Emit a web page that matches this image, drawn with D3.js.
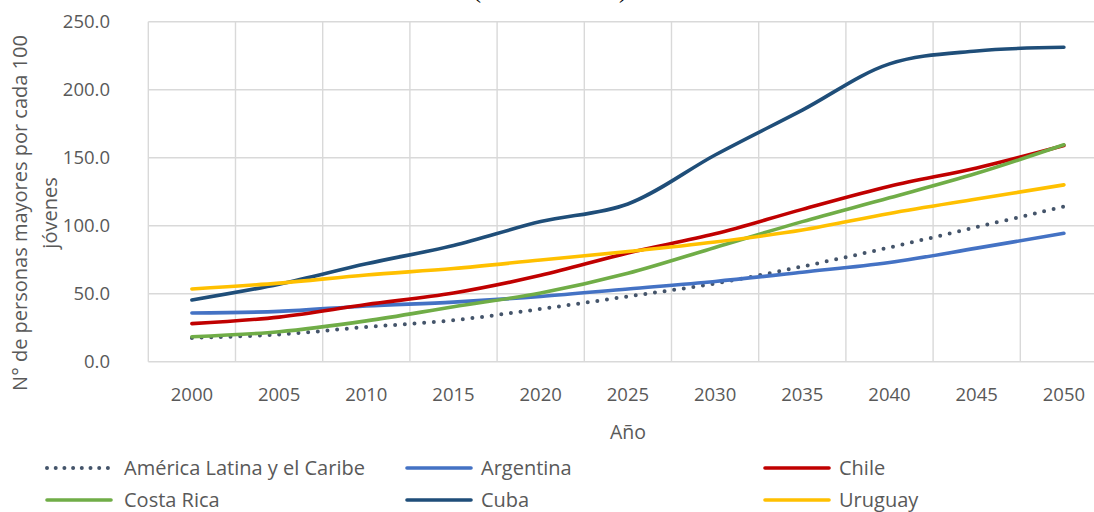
<!DOCTYPE html>
<html>
<head>
<meta charset="utf-8">
<script src="https://cdnjs.cloudflare.com/ajax/libs/d3/7.8.5/d3.min.js"></script>
<style>
  body { margin: 0; background: #fff; }
  text { font-family: "Open Sans", "Noto Sans", sans-serif; fill: #595959; }
</style>
</head>
<body>
<div id="chart"></div>
<script>
// data
var years = [2000, 2005, 2010, 2015, 2020, 2025, 2030, 2035, 2040, 2045, 2050];
var yTicks = [0, 50, 100, 150, 200, 250];

var alc       = [17.5, 20.0, 25.5, 30.5, 38.8, 48.0, 57.5, 70.0, 84.0, 99.0, 114.0];
var argentina = [35.8, 37.0, 41.0, 43.8, 48.0, 53.5, 59.0, 65.8, 73.0, 83.5, 94.4];
var chile     = [28.0, 32.8, 42.0, 50.5, 63.5, 80.0, 94.0, 112.0, 129.0, 142.5, 159.0];
var costaRica = [18.4, 22.0, 30.0, 40.4, 50.5, 65.0, 84.0, 103.0, 120.5, 138.5, 159.5];
var cuba      = [45.4, 57.0, 72.0, 85.5, 103.0, 116.0, 152.0, 185.0, 219.0, 228.5, 231.2];
var uruguay   = [53.5, 57.8, 63.8, 68.5, 74.8, 81.0, 88.0, 96.8, 109.0, 119.6, 130.0];

var seriesNames = ["América Latina y el Caribe", "Argentina", "Chile", "Costa Rica", "Cuba", "Uruguay"];
var seriesValues = [alc, argentina, chile, costaRica, cuba, uruguay];
var seriesColors = ["#44546A", "#4472C4", "#C00000", "#70AD47", "#1F4E79", "#FFC000"];

var width = 1094, height = 512;

var svg = d3.select("#chart").append("svg")
    .attr("width", width)
    .attr("height", height);

// scales (category axis, points in the middle of each band)
var x = d3.scaleBand()
    .domain(years)
    .range([148.3, 1107.5]);

var y = d3.scaleLinear()
    .domain([0, 250])
    .range([361.7, 21.7]);

// gridlines
var grid = svg.append("g").attr("stroke", "#d9d9d9").attr("stroke-width", 1.4);

grid.selectAll(".hgrid")
    .data(yTicks)
  .enter().append("line")
    .attr("x1", x.range()[0])
    .attr("x2", x.range()[1])
    .attr("y1", function(d) { return y(d); })
    .attr("y2", function(d) { return y(d); });

var bounds = years.map(function(d) { return x(d); }).concat([x.range()[1]]);
grid.selectAll(".vgrid")
    .data(bounds)
  .enter().append("line")
    .attr("x1", function(d) { return d; })
    .attr("x2", function(d) { return d; })
    .attr("y1", y(250))
    .attr("y2", y(0));

// y tick labels
svg.append("g").selectAll("text")
    .data(yTicks)
  .enter().append("text")
    .attr("x", 110)
    .attr("y", function(d) { return y(d); })
    .attr("dy", "0.36em")
    .attr("text-anchor", "end")
    .style("font-size", "18.5px")
    .text(function(d) { return d3.format(".1f")(d); });

// x tick labels
svg.append("g").selectAll("text")
    .data(years)
  .enter().append("text")
    .attr("x", function(d) { return x(d) + x.bandwidth() / 2; })
    .attr("y", 394)
    .attr("dy", "0.36em")
    .attr("text-anchor", "middle")
    .style("font-size", "18.5px")
    .text(function(d) { return d; });

// axis titles
svg.append("text")
    .attr("x", 628)
    .attr("y", 432)
    .attr("dy", "0.36em")
    .attr("text-anchor", "middle")
    .style("font-size", "19.5px")
    .text("Año");

var ytitle = svg.append("text")
    .attr("transform", "translate(20,213) rotate(-90)")
    .attr("text-anchor", "middle")
    .style("font-size", "20px");
ytitle.append("tspan").attr("x", 0).attr("dy", "0.36em").text("N° de personas mayores por cada 100");
ytitle.append("tspan").attr("x", 0).attr("dy", "1.5em").text("jóvenes");

// bits of the cut off title
svg.append("text")
    .attr("x", 477).attr("y", -2)
    .attr("text-anchor", "middle")
    .style("font-family", "'Liberation Serif', serif")
    .style("font-size", "24px")
    .style("fill", "#000")
    .text("(");
svg.append("text")
    .attr("x", 623).attr("y", -2)
    .attr("text-anchor", "middle")
    .style("font-family", "'Liberation Serif', serif")
    .style("font-size", "24px")
    .style("fill", "#000")
    .text(")");

// lines
var line = d3.line()
    .x(function(d, i) { return x(years[i]) + x.bandwidth() / 2; })
    .y(function(d) { return y(d); })
    .curve(d3.curveCatmullRom.alpha(0.5));

// draw in legend order
svg.append("g").selectAll("path")
    .data(seriesValues)
  .enter().append("path")
    .attr("d", line)
    .attr("fill", "none")
    .attr("stroke", function(d, i) { return seriesColors[i]; })
    .attr("stroke-width", function(d, i) { return i === 0 ? 4 : 3.6; })
    .attr("stroke-linecap", "round")
    .attr("stroke-dasharray", function(d, i) { return i === 0 ? "0,9.7" : null; });

// legend
var legendX = [45, 405, 763];
var legendY = [468, 500];

var legend = svg.append("g").selectAll("g")
    .data(seriesNames)
  .enter().append("g")
    .attr("transform", function(d, i) {
      return "translate(" + legendX[i % 3] + "," + legendY[Math.floor(i / 3)] + ")"; });

legend.append("line")
    .attr("x1", 2)
    .attr("x2", function(d, i) { return i === 0 ? 63 : 66; })
    .attr("stroke", function(d, i) { return seriesColors[i]; })
    .attr("stroke-width", function(d, i) { return i === 0 ? 4 : 3.6; })
    .attr("stroke-linecap", "round")
    .attr("stroke-dasharray", function(d, i) { return i === 0 ? "0,8.7" : null; });

legend.append("text")
    .attr("x", function(d, i) { return i === 0 || i === 3 ? 79 : 76; })
    .attr("dy", "0.36em")
    .style("font-size", "20px")
    .text(function(d) { return d; });
</script>
</body>
</html>
